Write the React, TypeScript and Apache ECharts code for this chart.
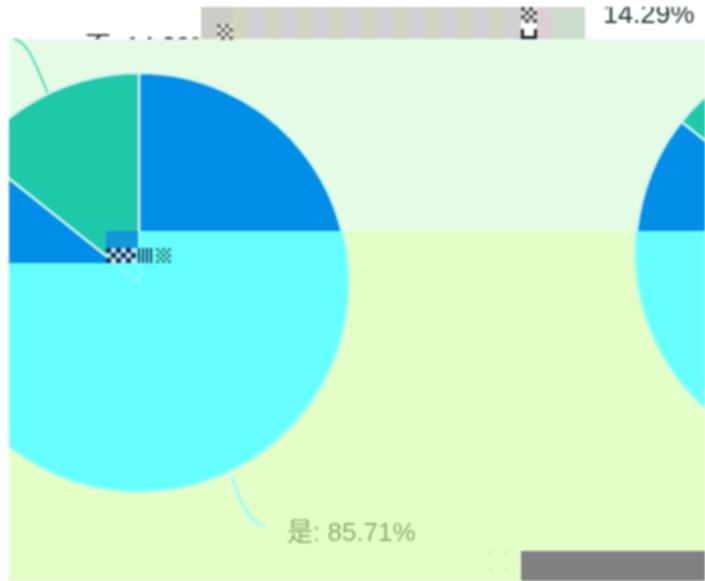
import React, { useEffect, useRef } from "react";
import * as echarts from "echarts";

const categories = ["是", "否"];
const values = [85.71, 14.29];
const upperColors = ["#008EE8", "#1EC8A8"];
const lowerColors = ["#66FFFF", "#66FFFF"];
const FONT = '"Liberation Sans", "Noto Sans CJK SC", sans-serif';

const labelFor = (i: number) => `${categories[i]}: ${values[i]}%`;

const pieSeries = (center: number[], colors: string[], border: string) => ({
  type: "pie",
  center,
  radius: [0, 209],
  startAngle: 90,
  silent: true,
  label: { show: false },
  labelLine: { show: false },
  emphasis: { disabled: true },
  itemStyle: { borderColor: border, borderWidth: 2.5 },
  data: categories.map((name, i) => ({
    name,
    value: values[i],
    itemStyle: { color: colors[i] },
  })),
});

const rect = (x: number, y: number, w: number, h: number, fill: string) => ({
  type: "rect",
  shape: { x, y, width: w, height: h },
  style: { fill },
  silent: true,
});

const checker = (x: number, y: number, w: number, h: number, size: number, ink: string, paper: string) => {
  const out: any[] = [];
  for (let r = 0; r * size < h; r++) {
    for (let c = 0; c * size < w; c++) {
      out.push(rect(x + c * size, y + r * size, size, size, (r + c) % 2 ? paper : ink));
    }
  }
  return out;
};

const stripes = (x: number, y: number, w: number, h: number, step: number, ink: string) => {
  const out: any[] = [];
  for (let i = 0; i * step < w; i++) out.push(rect(x + i * step, y, step / 2, h, ink));
  return out;
};

const tileColors = ["#CCCCC6", "#CCCCC6", "#D2D4BE", "#CFCFD6"];
const bandTiles = () => {
  const out: any[] = [];
  tileColors.forEach((c, i) => out.push(rect(201 + i * 16, 7, 16, 32, c)));
  for (let x = 265; x < 521; x += 32) {
    out.push(rect(x, 7, 16, 32, "#D2D3C0"));
    out.push(rect(x + 16, 7, 16, 32, "#D1D1D5"));
  }
  out.push(rect(537, 7, 16, 32, "#DAD2D2"));
  out.push(rect(553, 7, 32, 32, "#CBDCCD"));
  return out;
};

const baseGraphic = () => [
  rect(0, 0, 705, 581, "#FFFFFF"),
  {
    type: "text",
    x: 85,
    y: 59,
    style: { text: labelFor(1), font: `26px ${FONT}`, fill: "#222222", textVerticalAlign: "bottom" },
    silent: true,
  },
  rect(9, 39, 696, 192, "#E4FBE6"),
  rect(9, 231, 696, 350, "#E2FFC8"),
  ...bandTiles(),
  {
    type: "bezierCurve",
    shape: { x1: 14, y1: 39, x2: 49, y2: 96, cpx1: 30, cpy1: 42, cpx2: 38, cpy2: 72 },
    style: { stroke: "#4FD6BC", lineWidth: 2, fill: "none" },
    silent: true,
  },
  {
    type: "bezierCurve",
    shape: { x1: 232, y1: 476, x2: 264, y2: 527, cpx1: 238, cpy1: 496, cpx2: 246, cpy2: 518 },
    style: { stroke: "#9AFFFF", lineWidth: 3, fill: "none" },
    silent: true,
  },
  {
    type: "text",
    x: 287,
    y: 532,
    style: { text: labelFor(0), font: `26px ${FONT}`, fill: "#8CAB6E", textVerticalAlign: "middle" },
    silent: true,
  },
  {
    type: "text",
    x: 603,
    y: 14,
    style: { text: `${values[1]}%`, font: `27px ${FONT}`, fill: "#22322E", textVerticalAlign: "middle" },
    silent: true,
  },
  rect(585, 0, 120, 7, "#FFFFFF"),
  rect(521, 551, 184, 30, "#808080"),
  rect(489, 551, 3, 3, "#CFE6B8"),
  rect(505, 551, 3, 3, "#CFE6B8"),
  rect(489, 568, 3, 3, "#CFE6B8"),
  rect(505, 568, 3, 3, "#CFE6B8"),
];

const overlayGraphic = () => [
  rect(106, 231, 32, 17, "#1098DA"),
  ...checker(106, 248, 30, 15, 5, "#10305A", "#BFE8F0"),
  ...stripes(138, 248, 16, 15, 4, "#10305A"),
  ...checker(156, 248, 14, 15, 3, "#2F7F80", "#66FFFF"),
  ...checker(217, 24, 16, 15, 4, "#777770", "#E8E8E0"),
  ...checker(521, 7, 16, 16, 4, "#555555", "#E8E6E4"),
  rect(521, 29, 3, 9, "#222222"),
  rect(534, 29, 3, 9, "#222222"),
  rect(521, 36, 16, 3, "#222222"),
];

const layers: { left: number; top: number; width: number; height: number; option: () => any }[] = [
  { left: 0, top: 0, width: 705, height: 581, option: () => ({ graphic: baseGraphic() }) },
  {
    left: 9,
    top: 39,
    width: 696,
    height: 192,
    option: () => ({
      series: [
        pieSeries([130, 243], upperColors, "#D2F6EA"),
        pieSeries([836, 213], upperColors, "#D2F6EA"),
      ],
    }),
  },
  {
    left: 9,
    top: 231,
    width: 696,
    height: 350,
    option: () => ({
      series: [
        pieSeries([130, 51], lowerColors, "#86FFFA"),
        pieSeries([836, 21], lowerColors, "#86FFFA"),
      ],
    }),
  },
  {
    left: 9,
    top: 231,
    width: 97,
    height: 32,
    option: () => ({ series: [pieSeries([130, 51], upperColors, "#D2F6EA")] }),
  },
  { left: 0, top: 0, width: 705, height: 581, option: () => ({ graphic: overlayGraphic() }) },
];

function Layer({ left, top, width, height, option }: (typeof layers)[number]) {
  const ref = useRef<HTMLDivElement>(null);
  useEffect(() => {
    const chart = echarts.init(ref.current!, undefined, { renderer: "svg", width, height });
    chart.setOption({ animation: false, backgroundColor: "transparent", ...option() });
    return () => chart.dispose();
  }, []);
  return (
    <div
      ref={ref}
      style={{ position: "absolute", left, top, width, height, overflow: "hidden", pointerEvents: "none" }}
    />
  );
}

export default function App() {
  return (
    <div
      style={{
        position: "fixed",
        left: 0,
        top: 0,
        width: 705,
        height: 581,
        overflow: "hidden",
        background: "#fff",
        filter: "blur(0.8px)",
      }}
    >
      {layers.map((l, i) => (
        <Layer key={i} {...l} />
      ))}
    </div>
  );
}
